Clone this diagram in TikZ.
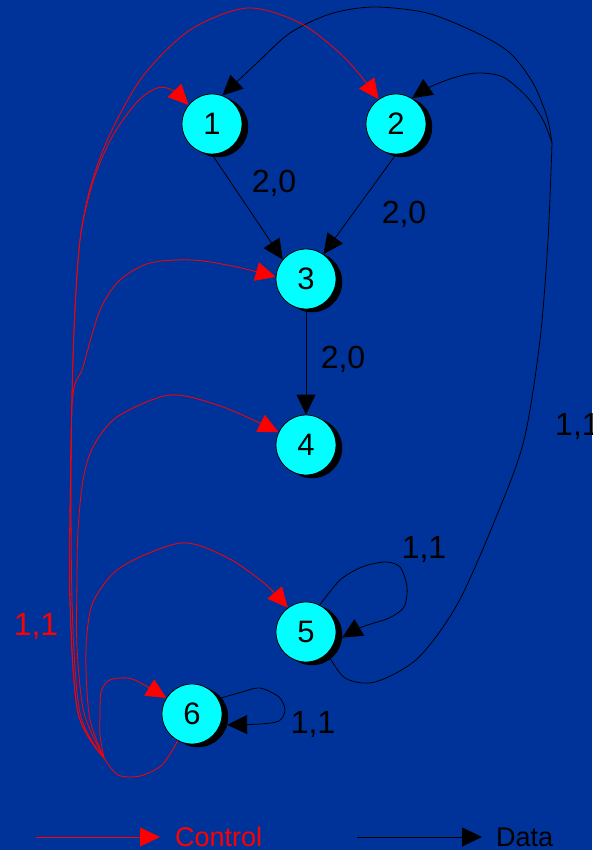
\documentclass[tikz,border=0pt]{standalone}
\usepackage{fontspec}
\setmainfont{Liberation Sans}
\usetikzlibrary{arrows.meta}
\definecolor{bg}{RGB}{0,51,153}
\definecolor{nodecyan}{RGB}{0,255,255}
\definecolor{ctrlred}{RGB}{255,0,0}
\begin{document}
\begin{tikzpicture}[x=1pt,y=-1pt,
  state/.style={circle, draw=black, line width=0.8pt, fill=nodecyan, minimum size=60pt, inner sep=0pt,
    font=\fontsize{31}{31}\selectfont},
  shadowdisc/.style={circle, fill=black, draw=black, minimum size=60pt, inner sep=0pt},
  tip/.style={-{Triangle[length=20pt,width=19pt]}},
  dline/.style={draw=black, line width=0.8pt},
  cline/.style={draw=ctrlred, line width=0.8pt},
  data/.style={dline, tip},
  ctrl/.style={cline, tip},
  lbl/.style={font=\fontsize{32}{32}\selectfont, inner sep=0pt, anchor=base},
  leg/.style={font=\fontsize{27}{27}\selectfont, inner sep=0pt, anchor=base west},
]
\fill[bg] (0,0) rectangle (592,850);
\useasboundingbox (0,0) rectangle (592,850);

% shadows
\node[shadowdisc] (s1) at (218,127) {};
\node[shadowdisc] (s2) at (402,127) {};
\node[shadowdisc] (s3) at (312,282) {};
\node[shadowdisc] (s4) at (312,448) {};
\node[shadowdisc] (s5) at (312,635) {};
\node[shadowdisc] (s6) at (198,717) {};

% nodes
\node[state] (n1) at (212,124) {1};
\node[state] (n2) at (396,124) {2};
\node[state] (n3) at (306,279) {3};
\node[state] (n4) at (306,445) {4};
\node[state] (n5) at (306,632) {5};
\node[state] (n6) at (192,714) {6};

% data edges
\draw[data] (n1.south) -- (n3.140);
\draw[data] (n2.south) -- (n3.55);
\draw[data] (n3.south) -- (n4.north);
\draw[data] plot[smooth] coordinates {(n5.63) (340,580) (362,567) (385,562) (400,567) (407,587) (404,607) (389,618) (362,627) (s5.-5)};
\draw[data] plot[smooth] coordinates {(n6.30) (242,692) (260,688) (279,697) (285,710) (279,721) (260,724) (s6.-15)};

\coordinate (J) at (552,143);
\draw[dline] plot[smooth] coordinates {(n5.-45) (345,678) (375,682) (418,658) (458,603) (497,515) (524,440) (540,340) (548,240) (J)};
\draw[data] plot[smooth] coordinates {(J) (547,117) (533,83) (510,53) (477,33) (427,13) (373,7) (330,14) (290,33) (258,62) (n1.70)};
\draw[data] plot[smooth] coordinates {(J) (543,120) (527,97) (503,77) (477,73) (453,78) (430,87) (n2.58)};

% control edges
\coordinate (T) at (104,758);
\draw[cline] plot[smooth] coordinates {(n6.-118) (162,765) (140,776) (118,775) (T)};
\draw[ctrl] plot[smooth] coordinates {(T) (100,735) (100,713) (101,692) (108,681) (120,678) (135,680) (n6.148)};
\draw[ctrl] plot[smooth] coordinates {(T) (90,720) (86,670) (87,633) (94,600) (121,567) (181,543) (226,557) (264,583) (n5.127)};
\draw[ctrl] plot[smooth] coordinates {(T) (84,713) (77,647) (77,580) (78,530) (83,480) (93,447) (117,417) (170,395) (223,407) (n4.155)};
\draw[ctrl] plot[smooth] coordinates {(T) (80,713) (72,600) (72,407) (83,367) (100,310) (120,280) (150,263) (193,260) (237,267) (n3.176)};
\draw[ctrl] plot[smooth] coordinates {(T) (78,713) (70,600) (71,450) (74,330) (80,240) (93,182) (112,137) (137,102) (157,88) (172,90) (n1.141)};
\draw[ctrl] plot[smooth] coordinates {(T) (78,713) (70,600) (71,450) (74,330) (80,240) (91,185) (110,134) (143,76) (190,30) (247,8) (300,23) (345,58) (n2.125)};

% labels
\node[lbl] (l13) at (274,193) {2,0};
\node[lbl] (l23) at (404,223) {2,0};
\node[lbl] (l34) at (343,368) {2,0};
\node[lbl] (l55) at (424,558) {1,1};
\node[lbl] (l66) at (313,733) {1,1};
\node[lbl, text=ctrlred] (lctl) at (36,635) {1,1};
\node[lbl, anchor=base west] (lback) at (555,435) {1,1};

% legend
\coordinate (c1) at (36,837);
\coordinate (c2) at (160,837);
\draw[ctrl] (c1) -- (c2);
\node[leg, text=ctrlred] (lc) at (175,846) {Control};
\coordinate (d1) at (357,837);
\coordinate (d2) at (482,837);
\draw[data] (d1) -- (d2);
\node[leg] (ld) at (496,846) {Data};
\end{tikzpicture}
\end{document}
